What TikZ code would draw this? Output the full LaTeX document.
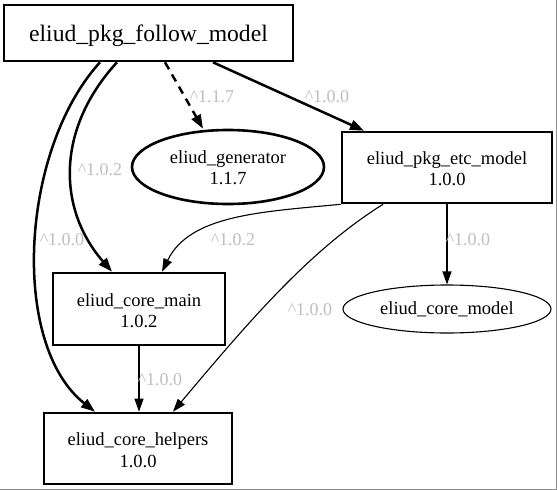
\documentclass[tikz,border=0pt]{standalone}
\usepackage{fontspec}
\setmainfont{Liberation Serif}
\usetikzlibrary{arrows.meta,shapes.geometric}
\newcommand{\toppad}[1]{\rule{0pt}{#1}}
\begin{document}
\begin{tikzpicture}[x=1pt,y=-1pt,
  box/.style={draw,line width=2.6pt,rectangle,inner sep=0pt,align=center,font=\fontsize{18.5}{21.5}\selectfont},
  oval/.style={draw,ellipse,inner sep=0pt,align=center,font=\fontsize{18.5}{21.5}\selectfont},
  lbl/.style={text=black!25,font=\fontsize{18}{20}\selectfont,inner sep=0pt},
  bold/.style={line width=2.5pt,-{Triangle[length=14pt,width=10pt]}},
  thin/.style={line width=1.1pt,-{Triangle[length=13pt,width=9pt]}}]
\useasboundingbox (0,0) rectangle (557,490);
\fill[white] (0,0) rectangle (557,490);
\draw[black!45,line width=1.2pt] (0,489.4) -- (556.4,489.4) -- (556.4,0);
\node[box,minimum width=289pt,minimum height=56pt,font=\fontsize{23.6}{26}\selectfont] (fm) at (148.5,33) {\toppad{23pt}eliud\_pkg\_follow\_model};
\node[oval,line width=2.6pt,minimum width=192pt,minimum height=74pt] (gen) at (228,167) {\toppad{14pt}eliud\_generator\\1.1.7};
\node[box,minimum width=210pt,minimum height=71pt] (etc) at (447,167.5) {\toppad{15pt}eliud\_pkg\_etc\_model\\1.0.0};
\node[box,minimum width=172pt,minimum height=72pt] (main) at (139,309) {\toppad{16.5pt}eliud\_core\_main\\1.0.2};
\node[oval,line width=1.1pt,minimum width=208pt,minimum height=48pt] (model) at (447,309) {eliud\_core\_model};
\node[box,minimum width=188pt,minimum height=71pt] (help) at (138,448.5) {\toppad{16.5pt}eliud\_core\_helpers\\1.0.0};
\draw[bold,dash pattern=on 8pt off 6pt] (fm.south -| 165,0) -- (gen.north -| 203,0);
\draw[bold] (fm.south -| 213,0) -- (etc.north -| 364,0);
\draw[bold] (fm.south -| 117,0) .. controls (55,130) and (58,210) .. (main.north -| 112,0);
\draw[bold] (fm.south -| 100,0) .. controls (20,150) and (10,345) .. (help.north -| 95,0);
\draw[thin] (etc.south west) .. controls (260,212) and (190,215) .. (main.north -| 162,0);
\draw[thin] (etc.south -| 383,0) .. controls (310,250) and (250,320) .. (help.north -| 173,0);
\draw[thin] (etc.south) -- (model.north);
\draw[thin] (main.south) -- (help.north -| main.south);
\node[lbl] (l1) at (212,97) {\textasciicircum1.1.7};
\node[lbl] (l2) at (327,97) {\textasciicircum1.0.0};
\node[lbl] (l3) at (100,170) {\textasciicircum1.0.2};
\node[lbl] (l4) at (62,240) {\textasciicircum1.0.0};
\node[lbl] (l5) at (233,240) {\textasciicircum1.0.2};
\node[lbl] (l6) at (468,240) {\textasciicircum1.0.0};
\node[lbl] (l7) at (310,310) {\textasciicircum1.0.0};
\node[lbl] (l8) at (160,380) {\textasciicircum1.0.0};
\end{tikzpicture}
\end{document}
